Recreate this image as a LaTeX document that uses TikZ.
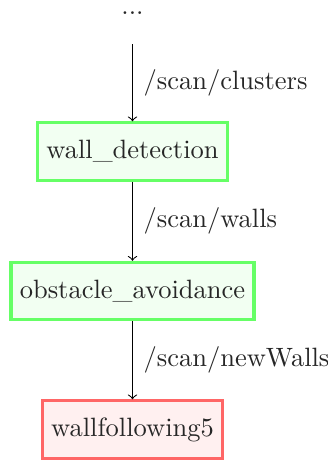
\documentclass[tikz,border=0pt]{standalone}
\usetikzlibrary{arrows.meta}
\definecolor{okborder}{RGB}{102,255,102}
\definecolor{okfill}{RGB}{242,255,242}
\definecolor{errborder}{RGB}{255,102,102}
\definecolor{errfill}{RGB}{255,240,240}
\begin{document}
\begin{tikzpicture}[x=0.3774pt,y=-0.3774pt,
  nodebox/.style={draw,line width=1.2pt,minimum height=21.6pt,inner xsep=3.3pt,inner ysep=0pt,text=black!85},
  okbox/.style={nodebox,draw=okborder,fill=okfill},
  errbox/.style={nodebox,draw=errborder,fill=errfill},
  topic/.style={->,>=to,line width=0.4pt},
  topiclabel/.style={right,inner sep=4pt,text=black!85}]
  \useasboundingbox (0,0) rectangle (327,461);
  \node[anchor=base,inner sep=0pt,text=black!85] (src) at (132.5,14) {...};
  \coordinate (srcend) at (132.5,44);
  \node[okbox] (wd) at (132.5,151.5) {wall\_detection};
  \node[okbox] (oa) at (132.5,291) {obstacle\_avoidance};
  \node[errbox] (wf) at (132.5,429.5) {wallfollowing5};
  \draw[topic] (srcend) -- node[topiclabel] {/scan/clusters} (wd);
  \draw[topic] (wd) -- node[topiclabel] {/scan/walls} (oa);
  \draw[topic] (oa) -- node[topiclabel] {/scan/newWalls} (wf);
\end{tikzpicture}
\end{document}
